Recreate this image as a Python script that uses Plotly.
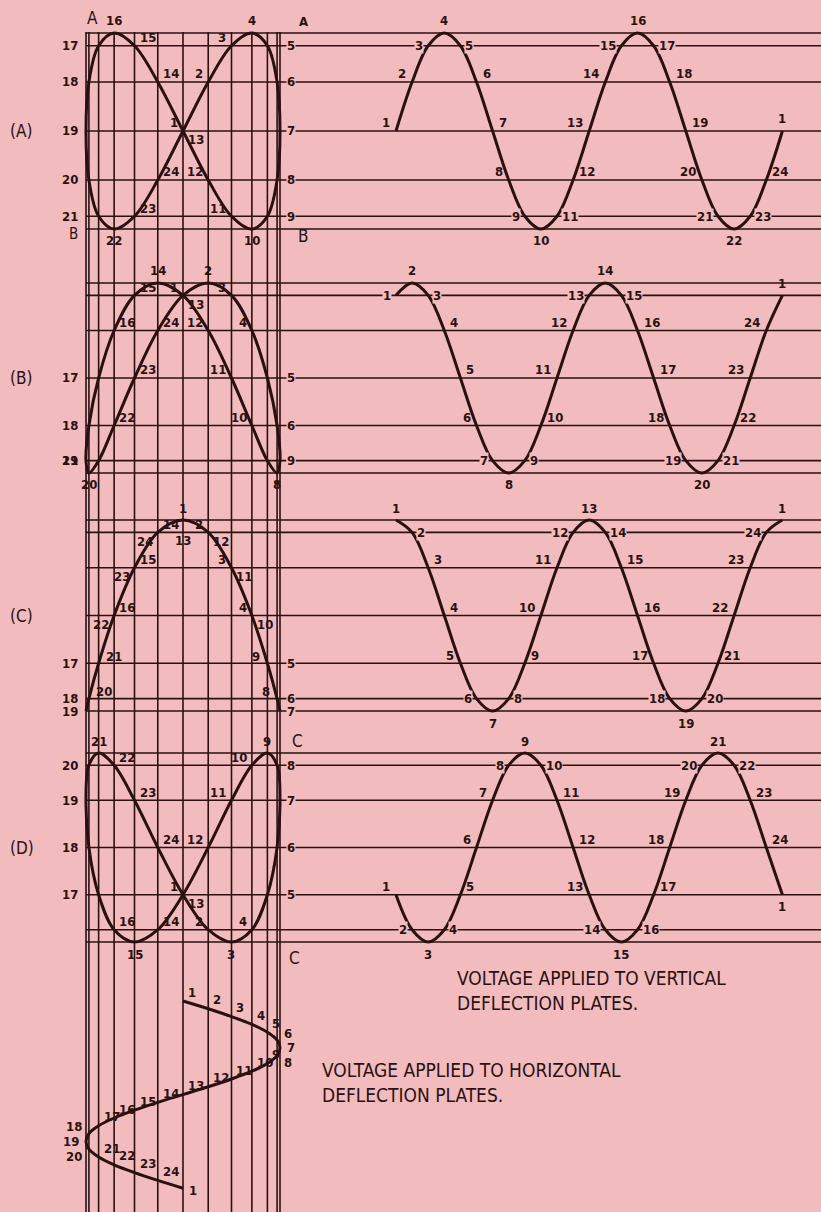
import plotly.graph_objects as go

# point numbers around one sweep cycle (the 25th closes the loop back to 1)
POINT_NUMBERS = list(range(1, 25)) + [1]
STEP_INDEX = list(range(1, 26))

# horizontal deflection voltage at each point, as a fraction of its peak
HORIZONTAL = [0, 0.26, 0.5, 0.71, 0.87, 0.97, 1, 0.97, 0.87, 0.71, 0.5, 0.26,
              0, -0.26, -0.5, -0.71, -0.87, -0.97, -1, -0.97, -0.87, -0.71, -0.5, -0.26, 0]

# vertical deflection voltage at each point, one list per pattern
VERTICAL_A = [0, 0.5, 0.87, 1, 0.87, 0.5, 0, -0.5, -0.87, -1, -0.87, -0.5,
              0, 0.5, 0.87, 1, 0.87, 0.5, 0, -0.5, -0.87, -1, -0.87, -0.5, 0]
VERTICAL_B = [0.87, 1, 0.87, 0.5, 0, -0.5, -0.87, -1, -0.87, -0.5, 0, 0.5,
              0.87, 1, 0.87, 0.5, 0, -0.5, -0.87, -1, -0.87, -0.5, 0, 0.5, 0.87]
VERTICAL_C = [1, 0.87, 0.5, 0, -0.5, -0.87, -1, -0.87, -0.5, 0, 0.5, 0.87,
              1, 0.87, 0.5, 0, -0.5, -0.87, -1, -0.87, -0.5, 0, 0.5, 0.87, 1]
VERTICAL_D = [-0.5, -0.87, -1, -0.87, -0.5, 0, 0.5, 0.87, 1, 0.87, 0.5, 0,
              -0.5, -0.87, -1, -0.87, -0.5, 0, 0.5, 0.87, 1, 0.87, 0.5, 0, -0.5]

# construction lines: horizontal voltage levels (vertical lines) and vertical levels (horizontal lines)
GRID_H = [-1, -0.97, -0.87, -0.71, -0.5, -0.26, 0, 0.26, 0.5, 0.71, 0.87, 0.97, 1]
GRID_V = [1, 0.87, 0.5, 0, -0.5, -0.87, -1]

PANEL_NAMES = ["A", "B", "C", "D"]
VERTICALS = [VERTICAL_A, VERTICAL_B, VERTICAL_C, VERTICAL_D]

TEXT_VERTICAL = ["VOLTAGE APPLIED TO VERTICAL", "DEFLECTION PLATES."]
TEXT_HORIZONTAL = ["VOLTAGE APPLIED TO HORIZONTAL", "DEFLECTION PLATES."]


W, H = 821, 1212
PINK = "#F2BCBE"
INK = "#2A1110"
FAMILY = "Liberation Sans Narrow, DejaVu Sans Condensed, Arial Narrow, sans-serif"
NUM_FONT = dict(family=FAMILY, size=13, color=INK)
TXT_FONT = dict(family=FAMILY, size=19, color=INK)
BIG_FONT = dict(family=FAMILY, size=17, color=INK)

LX, LAMP = 183, 97          # lissajous box centre / half width (px)
WX0, WDX = 396, 16.1        # first point / step of the vertical waves (px)
SY0, SDY = 1001, 7.8        # first point / step of the horizontal sweep (px)
ROWS = [(131, 98), (378, 95), (615.5, 95.5), (847.5, 94.5)]  # panel centre / half height (px)


def yname(i):
    return "y" if i == 0 else f"y{i + 1}"


fig = go.Figure()

axes = {
    "xaxis": dict(domain=[(LX - 1.12 * LAMP) / W, (LX + 1.12 * LAMP) / W], range=[-1.12, 1.12], anchor="y"),
    "xaxis2": dict(domain=[362 / W, 1], range=[1 + (362 - WX0) / WDX, 1 + (W - WX0) / WDX], anchor="y"),
    "yaxis5": dict(domain=[1 - 1205 / H, 1 - 975 / H], range=[1 + (1205 - SY0) / SDY, 1 + (975 - SY0) / SDY], anchor="x"),
}
for i, (cy, amp) in enumerate(ROWS):
    key = "yaxis" if i == 0 else f"yaxis{i + 1}"
    axes[key] = dict(domain=[1 - (cy + 1.2 * amp) / H, 1 - (cy - 1.2 * amp) / H], range=[-1.2, 1.2], anchor="x")
for ax in axes.values():
    ax.update(visible=False, fixedrange=True, showgrid=False, zeroline=False)

curve = dict(color=INK, width=3, shape="spline", smoothing=1)
for i, vert in enumerate(VERTICALS):
    fig.add_trace(go.Scatter(x=HORIZONTAL, y=vert, xaxis="x", yaxis=yname(i), mode="lines", line=curve, hoverinfo="skip"))
    fig.add_trace(go.Scatter(x=STEP_INDEX, y=vert, xaxis="x2", yaxis=yname(i), mode="lines", line=curve, hoverinfo="skip"))
fig.add_trace(go.Scatter(x=HORIZONTAL, y=STEP_INDEX, xaxis="x", yaxis="y5", mode="lines", line=curve, hoverinfo="skip"))

shapes = []
for h in GRID_H:
    shapes.append(dict(type="line", xref="x", yref="paper", x0=h, x1=h, y0=0, y1=1 - 32 / H,
                       line=dict(color=INK, width=1.6), layer="below"))
left_edge = (LX - LAMP) / W
for i in range(len(VERTICALS)):
    for v in GRID_V:
        shapes.append(dict(type="line", xref="paper", yref=yname(i), x0=left_edge, x1=1, y0=v, y1=v,
                           line=dict(color=INK, width=1.6), layer="below"))

annotations = []


def note(**kw):
    base = dict(showarrow=False, font=NUM_FONT)
    base.update(kw)
    annotations.append(base)


# lissajous point labels
for i, vert in enumerate(VERTICALS):
    used = set()
    for n, h, v in zip(POINT_NUMBERS[:24], HORIZONTAL[:24], vert[:24]):
        key = (round(h, 2), round(v, 2))
        dup = key in used
        used.add(key)
        a = dict(x=h, y=v, xref="x", yref=yname(i), text=f"<b>{n}</b>")
        outside = abs(h) >= 0.99 or (abs(h) >= 0.85 and abs(v) < 0.99)
        if outside and not dup:
            a.update(x=1.06 if h > 0 else -1.06, xanchor="left" if h > 0 else "right")
            if h > 0:
                a.update(bgcolor=PINK, borderpad=0)
        elif outside:
            a.update(xanchor="right" if h > 0 else "left", xshift=-5 if h > 0 else 5, yshift=7)
        elif abs(v) >= 0.99:
            up = (v > 0) != dup
            gap = 20 if dup else 12
            a.update(yshift=gap if up else -gap)
        else:
            side = -1 if h > 0 else 1
            if h == 0:
                side = -1
            if dup:
                side = -side
            a.update(xanchor="left" if side > 0 else "right", xshift=3 * side, yshift=-9 if dup else 8)
        note(**a)

# time-wave point labels
for i, vert in enumerate(VERTICALS):
    for j, (n, t, v) in enumerate(zip(POINT_NUMBERS, STEP_INDEX, vert)):
        prev_v = vert[j - 1] if j > 0 else vert[j]
        next_v = vert[j + 1] if j < len(vert) - 1 else vert[j]
        slope = next_v - prev_v
        a = dict(x=t, y=v, xref="x2", yref=yname(i), text=f"<b>{n}</b>")
        if abs(v) >= 0.99:
            a.update(yshift=12 if v > 0 else -12)
        elif j == len(vert) - 1:
            a.update(yshift=12 if slope > 0 else -12)
        else:
            side = -1 if (slope > 0 and v >= 0) or (slope < 0 and v < 0) else 1
            a.update(xanchor="left" if side > 0 else "right", xshift=4 * side)
            if abs(v) > 0.8:
                a.update(bgcolor=PINK, borderpad=0)
            else:
                a.update(yshift=8)
        note(**a)

# horizontal sweep labels
for j, (n, h, t) in enumerate(zip(POINT_NUMBERS, HORIZONTAL, STEP_INDEX)):
    a = dict(x=h, y=t, xref="x", yref="y5", text=f"<b>{n}</b>")
    if abs(h) >= 0.96:
        grow = abs(HORIZONTAL[j + 1]) - abs(HORIZONTAL[j - 1])
        shift = 0 if abs(h) >= 0.99 else (7 if grow > 0 else -7)
        a.update(xanchor="left" if h > 0 else "right", xshift=5 if h > 0 else -5, yshift=shift)
    elif j == len(HORIZONTAL) - 1:
        a.update(xanchor="left", xshift=4, yshift=-2)
    else:
        a.update(xanchor="left", xshift=3, yshift=9)
    note(**a)

# panel captions and end letters
for i, name in enumerate(PANEL_NAMES):
    note(x=8 / W, xref="paper", xanchor="left", y=0, yref=yname(i), text=f"({name})", font=BIG_FONT)


def px_x(px):
    return px / W


note(x=-0.93, y=1, xref="x", yref="y", yshift=15, text="A", font=BIG_FONT)
note(x=px_x(303), y=1, xref="paper", yref="y", yshift=11, text="<b>A</b>", font=NUM_FONT)
note(x=-1.06, y=-1, xref="x", yref="y", xanchor="right", yshift=-5, text="B", font=dict(BIG_FONT, size=15))
note(x=px_x(303), y=-1, xref="paper", yref="y", yshift=-7, text="B", font=BIG_FONT)
note(x=px_x(297), y=1, xref="paper", yref="y4", yshift=12, text="C", font=BIG_FONT)
note(x=px_x(294), y=-1, xref="paper", yref="y4", yshift=-16, text="C", font=BIG_FONT)

note(x=455 / W, xref="paper", xanchor="left", y=1 - 965 / H, yref="paper", yanchor="top",
     align="left", text="<br>".join(TEXT_VERTICAL), font=TXT_FONT)
note(x=320 / W, xref="paper", xanchor="left", y=1 - 1057 / H, yref="paper", yanchor="top",
     align="left", text="<br>".join(TEXT_HORIZONTAL), font=TXT_FONT)

fig.update_layout(
    width=W, height=H,
    margin=dict(l=0, r=0, t=0, b=0),
    paper_bgcolor=PINK, plot_bgcolor="rgba(0,0,0,0)",
    showlegend=False,
    shapes=shapes, annotations=annotations,
    **axes,
)

fig.write_html("out.html", config={"displayModeBar": False},
               post_script="document.body.style.margin='0';")
